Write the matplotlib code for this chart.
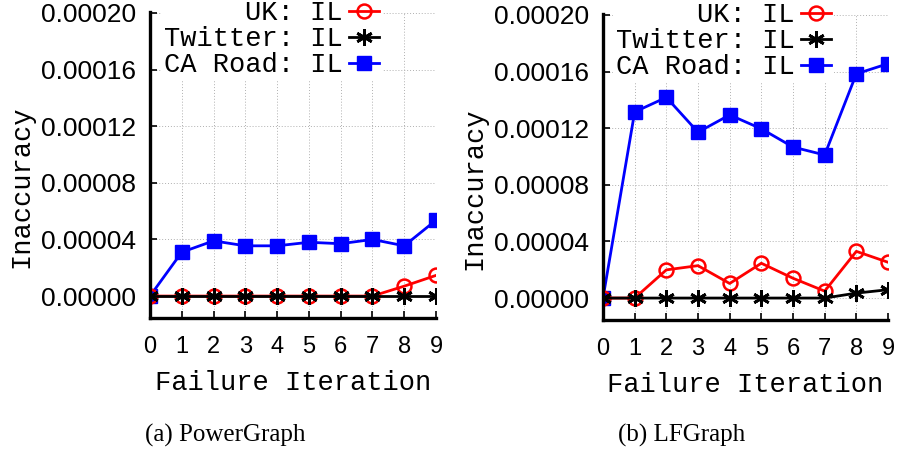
import numpy as np
import matplotlib
matplotlib.use("Agg")
import matplotlib.pyplot as plt

# data
iters = np.arange(10)
pg_uk = [0, 0, 0, 0, 0, 0, 0, 0, 0.0000070, 0.0000146]
pg_twitter = [0, 0, 0, 0, 0, 0, 0, 0, 0, 0]
pg_road = [0, 0.0000310, 0.0000390, 0.0000355, 0.0000355, 0.0000380,
           0.0000370, 0.0000400, 0.0000355, 0.0000536]
lf_uk = [0, 0, 0.0000199, 0.0000229, 0.0000103, 0.0000246,
         0.0000140, 0.0000049, 0.0000330, 0.0000253]
lf_twitter = [0, 0, 0, 0, 0, 0, 0, 0, 0.0000035, 0.0000059]
lf_road = [0, 0.0001315, 0.0001418, 0.0001172, 0.0001294, 0.0001196,
           0.0001067, 0.0001011, 0.0001584, 0.0001656]
yticks = [0, 0.00004, 0.00008, 0.00012, 0.00016, 0.00020]
ytick_labels = ["0.00000", "0.00004", "0.00008", "0.00012", "0.00016", "0.00020"]
captions = ["(a) PowerGraph", "(b) LFGraph"]

mono = "Liberation Mono"
sans = ["Liberation Sans", "DejaVu Sans"]
serif = "Liberation Serif"

fig = plt.figure(figsize=(9.01, 4.5), dpi=100)
ax1 = fig.add_axes([150 / 901, 1 - 318 / 450, 286 / 901, 306 / 450])
ax2 = fig.add_axes([603 / 901, 1 - 320 / 450, 285 / 901, 306 / 450])

panels = [(ax1, pg_uk, pg_twitter, pg_road), (ax2, lf_uk, lf_twitter, lf_road)]
for ax, uk, tw, road in panels:
    ax.plot(iters, uk, color="red", lw=2.0, marker="o", ms=10, mfc="none",
            mew=1.8, label="UK: IL", zorder=3)
    ax.plot(iters, tw, color="black", lw=2.0, marker=(6, 2, 0), ms=12,
            mew=2.0, label="Twitter: IL", zorder=4)
    ax.plot(iters, road, color="blue", lw=2.0, marker="s", ms=10,
            label="CA Road: IL", zorder=2)

    ax.set_xlim(0, 9)
    ax.set_ylim(-0.0000155, 0.0002007)
    ax.set_xticks(iters)
    ax.set_xticklabels([str(i) for i in iters], family=sans, fontsize=17)
    ax.set_yticks(yticks)
    ax.set_yticklabels(ytick_labels, family=sans, fontsize=19)
    ax.tick_params(direction="in", length=5, width=1.2)
    ax.tick_params(axis="y", pad=10)
    ax.tick_params(axis="x", pad=13)
    ax.grid(True, ls=(0, (1, 2)), lw=0.7, color="#b0b0b0")
    for s in ["top", "right"]:
        ax.spines[s].set_visible(False)
    for s in ["left", "bottom"]:
        ax.spines[s].set_linewidth(2.4)

    ax.set_ylabel("Inaccuracy", family=mono, fontsize=19.5, va="center")
    ax.yaxis.set_label_coords(-0.45, 0.43)
    ax.set_xlabel("Failure Iteration", family=mono, fontsize=19.5, va="center")
    ax.xaxis.set_label_coords(0.5, -0.212)

    leg = ax.legend(loc="upper right", bbox_to_anchor=(0.81, 1.048),
                    markerfirst=False, frameon=True, fancybox=False,
                    facecolor="white", edgecolor="none", framealpha=1,
                    prop={"family": mono, "size": 19.5}, handlelength=1.1,
                    handletextpad=0.25, labelspacing=0, borderpad=0.1,
                    borderaxespad=0)
    leg.set_zorder(5)

fig.text(0.25, 1 - 435 / 450, captions[0], family=serif, fontsize=18,
         ha="center", va="center")
fig.text(0.756, 1 - 435 / 450, captions[1], family=serif, fontsize=18,
         ha="center", va="center")

fig.savefig("out.png", dpi=100)
